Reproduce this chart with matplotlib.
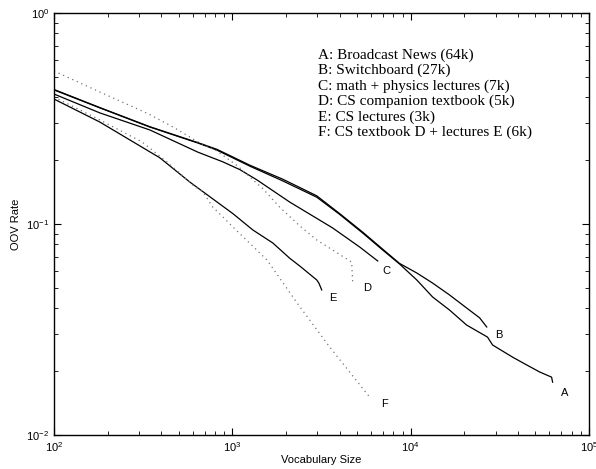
import matplotlib
matplotlib.use("Agg")
import matplotlib.pyplot as plt
from matplotlib.ticker import LogLocator, NullFormatter

plt.rcParams['font.family'] = ['Liberation Sans', 'DejaVu Sans']
plt.rcParams['mathtext.default'] = 'regular'

# OOV rate vs vocabulary size
a_x = [100, 181, 345, 641, 819, 1253, 1919, 2974, 4000, 5383, 6966, 8670,
       10820, 13270, 16520, 20590, 26980, 28800, 37240, 44640, 52840, 61690, 62500]
a_y = [0.432, 0.355, 0.288, 0.242, 0.224, 0.188, 0.160, 0.134, 0.111, 0.0906, 0.0753, 0.0646,
       0.0543, 0.0451, 0.0391, 0.0332, 0.0291, 0.0267, 0.0234, 0.0215, 0.0199, 0.0188, 0.0178]

b_x = [100, 181, 345, 641, 819, 1253, 1919, 2974, 4000, 5383, 6966, 8670,
       10820, 13270, 16520, 20590, 24370, 26700]
b_y = [0.434, 0.356, 0.289, 0.243, 0.226, 0.190, 0.163, 0.136, 0.112, 0.0915, 0.0760, 0.0650,
       0.0586, 0.0525, 0.0461, 0.0400, 0.0359, 0.0325]

c_x = [100, 181, 345, 641, 885, 1102, 1371, 2099, 3650, 5176, 6535]
c_y = [0.413, 0.336, 0.279, 0.219, 0.197, 0.181, 0.162, 0.127, 0.0958, 0.0778, 0.0668]

d_x = [100, 181, 340, 476, 641, 819, 1074, 1483, 1846, 2390, 2974, 3650, 4667, 4730]
d_y = [0.531, 0.422, 0.332, 0.285, 0.245, 0.222, 0.188, 0.147, 0.120, 0.0979, 0.0840, 0.0753,
       0.0660, 0.0531]

e_x = [100, 181, 392, 578, 1007, 1303, 1686, 2099, 2390, 2974, 3056, 3171]
e_y = [0.391, 0.304, 0.206, 0.158, 0.112, 0.0937, 0.0813, 0.0688, 0.0632, 0.0543, 0.0525, 0.0487]

f_x = [100, 181, 311, 430, 601, 684, 778, 885, 1007, 1563, 2328, 3517, 5823]
f_y = [0.400, 0.311, 0.245, 0.197, 0.153, 0.142, 0.120, 0.108, 0.0968, 0.0676, 0.0418, 0.0261,
       0.0153]

curve_labels = ['A', 'B', 'C', 'D', 'E', 'F']
label_x = [72900, 31100, 7350, 5680, 3656, 7150]
label_y = [0.0158, 0.0298, 0.0599, 0.0497, 0.0446, 0.0140]

legend_lines = [
    "A: Broadcast News (64k)",
    "B: Switchboard (27k)",
    "C: math + physics lectures (7k)",
    "D: CS companion textbook (5k)",
    "E: CS lectures (3k)",
    "F: CS textbook D + lectures E (6k)",
]

fig = plt.figure(figsize=(5.96, 4.69), dpi=100)
ax = fig.add_axes([54/596, 1 - 435/469, (589 - 54)/596, (435 - 13)/469])

ax.plot(a_x, a_y, color='black', lw=0.9)
ax.plot(b_x, b_y, color='black', lw=0.9)
ax.plot(c_x, c_y, color='black', lw=0.9)
ax.plot(d_x, d_y, color='0.45', lw=0.9, ls=(0, (1, 3)))
ax.plot(e_x, e_y, color='black', lw=0.9)
ax.plot(f_x, f_y, color='0.45', lw=0.9, ls=(0, (1, 3)))

for lab, lx, ly in zip(curve_labels, label_x, label_y):
    ax.text(lx, ly, lab, fontsize=8, ha='center', va='center')

for i, line in enumerate(legend_lines):
    ax.text(318/596, 1 - (55 + 15.5*i)/469, line, transform=fig.transFigure,
            family=['Liberation Serif', 'DejaVu Serif'], fontsize=11, va='center', ha='left')

ax.set_xscale('log')
ax.set_yscale('log')
ax.set_xlim(1e2, 1e5)
ax.set_ylim(1e-2, 1e0)
ax.xaxis.set_minor_locator(LogLocator(base=10, subs=range(2, 10)))
ax.yaxis.set_minor_locator(LogLocator(base=10, subs=range(2, 10)))
ax.xaxis.set_minor_formatter(NullFormatter())
ax.yaxis.set_minor_formatter(NullFormatter())
ax.tick_params(which='both', direction='in', top=True, right=True, labelsize=8)
ax.tick_params(which='major', length=5)
ax.tick_params(which='minor', length=3)
for s in ax.spines.values():
    s.set_linewidth(1.0)

ax.set_xlabel('Vocabulary Size', fontsize=8, labelpad=1)
ax.set_ylabel('OOV Rate', fontsize=8, labelpad=4)

fig.savefig('out.png', dpi=100)
